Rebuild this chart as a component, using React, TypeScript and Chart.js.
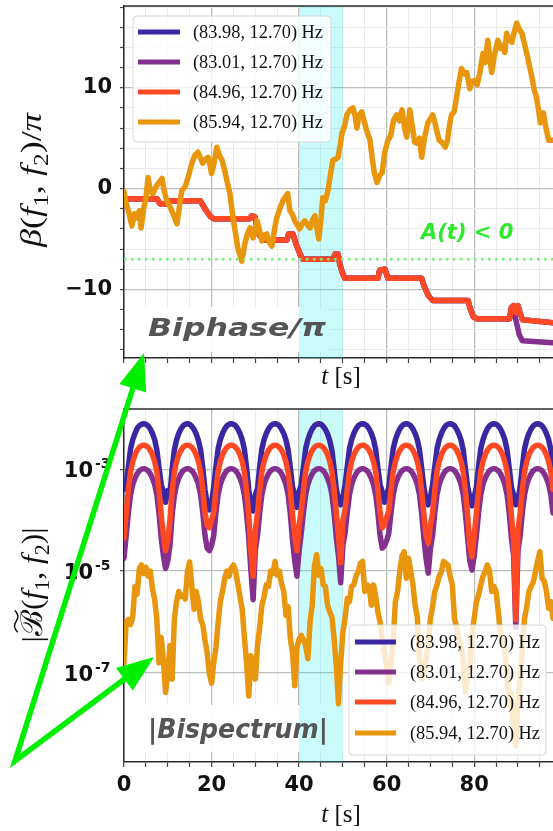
import React, { useEffect, useRef } from "react";
import { Chart, registerables } from "chart.js";

Chart.register(...registerables);

// ---------------- data ----------------
const seriesLabels = ["(83.98, 12.70) Hz", "(83.01, 12.70) Hz", "(84.96, 12.70) Hz", "(85.94, 12.70) Hz"];

const xTicks = [0, 5, 10, 15, 20, 25, 30, 35, 40, 45, 50, 55, 60, 65, 70, 75, 80, 85, 90, 95];
const biphaseTicks = [-16, -14, -12, -10, -8, -6, -4, -2, 0, 2, 4, 6, 8, 10, 12, 14, 16, 18];
const biphaseLabeled = [-10, 0, 10];
const bispecTicks = [1e-7, 1e-5, 1e-3];

const shadeStart = 40;
const shadeEnd = 50;
const thresholdLevel = -7;

// top panel: biphase / pi
const redTopT = [0, 7.5, 8.2, 9.8, 10.5, 17.4, 18.5, 19.8, 20.5, 28.7, 29.2, 29.9, 30.6, 31.7, 37.2, 37.6, 38.6, 39.3, 40.3, 40.8, 47.8, 48.2, 48.9, 49.3, 50.0, 50.5, 58.0, 58.4, 59.6, 60.3, 68.0, 68.5, 69.5, 70.5, 78.6, 79.0, 79.8, 80.5, 88.1, 88.5, 89.0, 89.5, 90.0, 90.4, 91.0, 98];
const redTopY = [-1.0, -1.0, -1.5, -1.5, -1.2, -1.2, -2.0, -2.8, -3.0, -3.0, -2.7, -2.8, -4.4, -5.1, -5.1, -4.5, -4.5, -5.5, -6.6, -7.0, -7.0, -6.5, -6.5, -7.5, -8.5, -8.9, -8.9, -8.1, -8.0, -8.9, -8.9, -9.6, -10.6, -11.1, -11.1, -11.8, -12.7, -12.9, -12.9, -11.8, -11.6, -12.3, -11.6, -12.2, -13.0, -13.3];

const purpleTopT = [0, 7.5, 8.2, 9.8, 10.5, 17.4, 18.5, 19.8, 20.5, 28.7, 29.2, 29.9, 30.6, 31.7, 37.2, 37.6, 38.6, 39.3, 40.3, 40.8, 47.8, 48.2, 48.9, 49.3, 50.0, 50.5, 58.0, 58.4, 59.6, 60.3, 68.0, 68.5, 69.5, 70.5, 78.6, 79.0, 79.8, 80.5, 88.1, 88.5, 89.0, 89.5, 90.3, 91.0, 98];
const purpleTopY = [-1.0, -1.0, -1.5, -1.5, -1.2, -1.2, -2.0, -2.8, -3.0, -3.0, -2.7, -2.8, -4.4, -5.1, -5.1, -4.5, -4.5, -5.5, -6.6, -7.0, -7.0, -6.5, -6.5, -7.5, -8.5, -8.9, -8.9, -8.1, -8.0, -8.9, -8.9, -9.6, -10.6, -11.1, -11.1, -11.8, -12.7, -12.9, -12.9, -11.8, -11.9, -13.0, -14.5, -15.1, -15.3];

const blueTopT = redTopT;
const blueTopY = redTopY;

const orangeTopT = [0, 0.5, 1, 1.8, 2.4, 3, 3.5, 3.9, 4.5, 5, 5.5, 6, 6.6, 7.3, 8, 8.7, 9.2, 9.8, 10.5, 11.3, 12.1, 12.6, 13.2, 14, 14.7, 15.5, 16.2, 16.9, 17.5, 18, 18.6, 19.2, 19.6, 20, 20.6, 21.2, 21.8, 22.4, 23, 23.5, 24.2, 24.9, 25.5, 26, 26.9, 27.6, 28.2, 28.8, 29.5, 30.4, 31, 31.5, 32.1, 32.6, 33.3, 33.8, 34.4, 34.9, 35.6, 36.3, 37.4, 37.9, 38.5, 39, 39.6, 40.1, 40.7, 41.3, 41.9, 42.5, 43, 43.6, 44.1, 44.5, 45, 45.4, 46, 46.6, 47.2, 47.7, 48.3, 48.9, 49.4, 49.8, 50.4, 50.9, 51.6, 52.3, 52.8, 53.2, 53.7, 54.3, 54.8, 55.4, 56.2, 56.7, 57.2, 57.8, 58.4, 59, 59.5, 60.3, 60.9, 61.6, 62.3, 62.9, 63.5, 64.1, 64.6, 65.3, 65.8, 66.4, 66.9, 67.5, 68, 68.6, 69.4, 70.5, 71, 71.4, 72, 72.8, 73.4, 73.9, 74.4, 74.8, 75.4, 76, 76.5, 77.1, 77.7, 78.3, 79, 79.5, 80.1, 80.7, 81.3, 82, 82.5, 83.1, 83.6, 84, 84.6, 85.4, 86, 86.5, 87, 87.4, 88, 88.6, 89.2, 89.7, 90.3, 90.9, 91.4, 92, 92.6, 93.2, 93.7, 94.2, 94.7, 95.1, 95.4, 95.8, 96.4, 97, 98];
const orangeTopY = [-0.3, -1.5, -2.2, -3.7, -2.5, -2.9, -2.2, -3.9, -2.0, -0.9, 1.1, -0.2, -0.5, 0.2, 0.6, 1.0, -0.3, -1.2, -1.8, -2.6, -3.5, -2.0, -0.2, 0.2, 1.2, 2.5, 3.3, 3.6, 3.0, 2.5, 2.9, 3.1, 2.4, 1.5, 2.6, 4.1, 3.3, 2.8, 1.8, 0.8, -0.5, -2.9, -4.5, -5.9, -7.2, -5.5, -4.5, -3.9, -4.9, -3.2, -4.2, -5.2, -4.6, -4.5, -5.4, -5.7, -4.0, -2.9, -2.0, -1.2, -0.5, -2.2, -2.6, -3.2, -3.6, -4.0, -3.5, -3.2, -3.6, -3.9, -3.2, -2.7, -4.0, -5.0, -3.0, -0.9, -1.2, -0.2, 1.5, 2.8, 2.9, 3.1, 4.3, 5.5, 6.2, 7.3, 7.8, 8.0, 7.2, 6.0, 7.3, 7.6, 6.8, 5.8, 4.8, 3.0, 1.5, 0.6, 1.3, 1.6, 3.5, 4.8, 5.2, 6.8, 7.3, 6.7, 7.8, 6.0, 5.1, 7.8, 6.3, 4.6, 4.5, 5.0, 3.1, 4.9, 6.5, 7.3, 6.6, 5.8, 4.8, 4.5, 4.1, 4.8, 6.4, 7.3, 7.6, 9.1, 10.5, 11.9, 11.4, 11.5, 9.9, 10.6, 10.7, 10.3, 11.5, 13.4, 12.5, 14.7, 12.8, 11.5, 13.2, 14.7, 13.9, 14.2, 13.5, 15.4, 14.8, 14.5, 15.6, 16.4, 15.8, 15.4, 14.5, 13.4, 12.2, 11.0, 9.8, 9.1, 7.8, 6.5, 6.9, 7.5, 6.0, 4.8, 4.8];

// bottom panel: |bispectrum|, sampled every 0.5 s from t = 0 to 98, values as log10
const bottomT = Array.from({ length: 197 }, (_, i) => i * 0.5);

const blueLog10 = [
  -3.4, -3.3, -2.95, -2.6, -2.42, -2.3, -2.2, -2.15, -2.12, -2.11, -2.12, -2.15, -2.21, -2.3, -2.42, -2.62, -2.97, -3.3, -3.45, -3.65,
  -3.42, -3.5, -3.0, -2.62, -2.43, -2.3, -2.21, -2.15, -2.12, -2.11, -2.12, -2.16, -2.22, -2.31, -2.44, -2.62, -2.98, -3.4, -3.7, -3.8,
  -3.65, -3.35, -2.96, -2.6, -2.42, -2.3, -2.21, -2.15, -2.12, -2.11, -2.12, -2.15, -2.21, -2.3, -2.42, -2.61, -2.97, -3.4, -3.75, -3.82,
  -3.5, -3.38, -2.95, -2.6, -2.42, -2.3, -2.21, -2.15, -2.12, -2.11, -2.12, -2.15, -2.22, -2.3, -2.43, -2.62, -2.98, -3.35, -3.5, -3.75,
  -3.45, -3.3, -2.95, -2.6, -2.42, -2.3, -2.21, -2.15, -2.12, -2.11, -2.12, -2.16, -2.22, -2.31, -2.44, -2.63, -3.0, -3.4, -3.6, -3.7,
  -3.55, -3.3, -2.95, -2.6, -2.42, -2.3, -2.21, -2.15, -2.12, -2.11, -2.12, -2.15, -2.21, -2.3, -2.42, -2.62, -2.98, -3.3, -3.45, -3.65,
  -3.5, -3.35, -2.95, -2.6, -2.42, -2.3, -2.21, -2.15, -2.12, -2.11, -2.12, -2.15, -2.21, -2.3, -2.42, -2.62, -2.98, -3.35, -3.6, -3.7,
  -3.55, -3.3, -2.95, -2.6, -2.42, -2.3, -2.21, -2.15, -2.12, -2.11, -2.12, -2.15, -2.22, -2.31, -2.43, -2.63, -3.0, -3.35, -3.55, -3.72,
  -3.55, -3.35, -2.95, -2.6, -2.42, -2.3, -2.21, -2.15, -2.12, -2.11, -2.12, -2.15, -2.21, -2.3, -2.42, -2.62, -2.98, -3.35, -3.5, -3.7,
  -3.6, -3.35, -2.95, -2.6, -2.42, -2.3, -2.21, -2.15, -2.12, -2.11, -2.12, -2.15, -2.21, -2.3, -2.42, -2.62, -2.98,
];

const redLog10 = [
  -4.35, -3.85, -3.4, -3.05, -2.85, -2.72, -2.63, -2.57, -2.54, -2.53, -2.54, -2.57, -2.63, -2.72, -2.85, -3.05, -3.42, -3.9, -4.3, -4.6,
  -4.4, -4.0, -3.42, -3.06, -2.86, -2.72, -2.63, -2.57, -2.54, -2.53, -2.54, -2.57, -2.63, -2.72, -2.85, -3.05, -3.4, -3.85, -4.1, -4.15,
  -4.0, -3.85, -3.4, -3.05, -2.85, -2.72, -2.63, -2.57, -2.54, -2.53, -2.54, -2.57, -2.63, -2.72, -2.85, -3.05, -3.42, -3.9, -4.6, -5.1,
  -4.2, -3.85, -3.4, -3.05, -2.85, -2.72, -2.63, -2.57, -2.54, -2.53, -2.54, -2.57, -2.63, -2.72, -2.86, -3.06, -3.42, -3.9, -4.3, -4.6,
  -4.1, -3.8, -3.4, -3.05, -2.85, -2.72, -2.63, -2.57, -2.54, -2.53, -2.54, -2.57, -2.63, -2.72, -2.85, -3.05, -3.4, -3.85, -4.3, -4.84,
  -4.0, -3.8, -3.4, -3.05, -2.85, -2.72, -2.63, -2.57, -2.54, -2.53, -2.54, -2.57, -2.63, -2.72, -2.85, -3.05, -3.4, -3.85, -4.15, -4.1,
  -3.95, -3.8, -3.4, -3.05, -2.85, -2.72, -2.63, -2.57, -2.54, -2.53, -2.54, -2.57, -2.63, -2.72, -2.85, -3.05, -3.42, -3.88, -4.3, -4.45,
  -4.1, -3.85, -3.4, -3.05, -2.85, -2.72, -2.63, -2.57, -2.54, -2.53, -2.54, -2.57, -2.63, -2.72, -2.85, -3.05, -3.42, -3.9, -4.5, -4.72,
  -4.3, -3.85, -3.4, -3.05, -2.85, -2.72, -2.63, -2.57, -2.54, -2.53, -2.54, -2.57, -2.63, -2.72, -2.85, -3.05, -3.4, -3.9, -4.4, -5.95,
  -4.2, -3.85, -3.4, -3.05, -2.85, -2.72, -2.63, -2.57, -2.54, -2.53, -2.54, -2.57, -2.63, -2.72, -2.85, -3.05, -3.4,
];

const purpleLog10 = [
  -4.75, -4.3, -3.85, -3.5, -3.3, -3.18, -3.09, -3.03, -3.0, -2.99, -3.0, -3.03, -3.09, -3.18, -3.3, -3.5, -3.87, -4.35, -4.7, -4.95,
  -4.8, -4.5, -3.9, -3.52, -3.31, -3.18, -3.09, -3.03, -3.0, -2.99, -3.0, -3.03, -3.09, -3.18, -3.3, -3.5, -3.86, -4.3, -4.55, -4.6,
  -4.5, -4.3, -3.85, -3.5, -3.3, -3.18, -3.09, -3.03, -3.0, -2.99, -3.0, -3.03, -3.09, -3.18, -3.3, -3.5, -3.87, -4.35, -5.0, -5.56,
  -4.6, -4.3, -3.85, -3.5, -3.3, -3.18, -3.09, -3.03, -3.0, -2.99, -3.0, -3.03, -3.09, -3.18, -3.31, -3.51, -3.88, -4.4, -4.8, -5.1,
  -4.6, -4.25, -3.85, -3.5, -3.3, -3.18, -3.09, -3.03, -3.0, -2.99, -3.0, -3.03, -3.09, -3.18, -3.3, -3.5, -3.86, -4.35, -4.7, -5.23,
  -4.5, -4.25, -3.85, -3.5, -3.3, -3.18, -3.09, -3.03, -3.0, -2.99, -3.0, -3.03, -3.09, -3.18, -3.3, -3.5, -3.86, -4.3, -4.55, -4.5,
  -4.4, -4.25, -3.85, -3.5, -3.3, -3.18, -3.09, -3.03, -3.0, -2.99, -3.0, -3.03, -3.09, -3.18, -3.3, -3.5, -3.87, -4.35, -4.75, -5.04,
  -4.55, -4.3, -3.85, -3.5, -3.3, -3.18, -3.09, -3.03, -3.0, -2.99, -3.0, -3.03, -3.09, -3.18, -3.3, -3.5, -3.87, -4.35, -4.8, -4.98,
  -4.7, -4.3, -3.85, -3.5, -3.3, -3.18, -3.09, -3.03, -3.0, -2.99, -3.0, -3.03, -3.09, -3.18, -3.3, -3.5, -3.86, -4.35, -4.7, -6.1,
  -4.6, -4.3, -3.85, -3.5, -3.3, -3.18, -3.09, -3.03, -3.0, -2.99, -3.0, -3.03, -3.09, -3.18, -3.3, -3.5, -3.86,
];

const orangeLog10 = [
  -6.8, -6.0, -5.95, -6.05, -5.9, -5.3, -5.45, -4.95, -4.88, -5.05, -4.92, -5.1, -5.0, -5.35, -5.55, -5.95, -6.8, -6.3, -6.75, -7.38,
  -7.0, -6.46, -7.12, -5.95, -5.6, -5.4, -5.5, -5.47, -5.55, -5.0, -4.82, -5.3, -5.75, -5.4, -5.6, -5.95, -6.05, -6.35, -6.6, -7.0,
  -7.2, -6.8, -6.5, -6.0, -5.6, -5.4, -5.15, -5.0, -5.1, -4.94, -4.88, -5.0, -5.25, -5.5, -5.75, -6.3, -6.8, -7.45, -6.66, -6.9,
  -7.12, -6.46, -6.1, -5.67, -5.5, -5.27, -5.3, -5.0, -5.05, -4.81, -5.08, -5.0, -5.25, -5.4, -5.87, -5.7, -6.33, -6.6, -7.25, -6.5,
  -6.33, -6.26, -6.35, -6.46, -6.72, -6.0, -5.67, -4.9, -4.68, -5.08, -4.95, -5.27, -5.3, -5.67, -5.8, -5.9, -6.33, -6.85, -7.6, -6.8,
  -6.2, -5.93, -5.54, -5.6, -5.3, -5.27, -5.1, -5.01, -4.85, -4.81, -5.4, -5.27, -5.3, -5.67, -5.27, -5.5, -5.8, -6.0, -6.33, -6.6,
  -6.85, -7.19, -6.8, -6.33, -5.6, -5.4, -5.01, -4.7, -4.62, -5.14, -4.75, -5.0, -5.27, -5.67, -5.9, -6.72, -7.12, -7.0, -6.72, -6.4,
  -5.93, -5.7, -5.4, -5.27, -5.1, -5.01, -4.81, -4.85, -4.88, -5.1, -5.27, -5.93, -6.1, -6.33, -6.5, -6.72, -7.38, -7.1, -6.85, -6.2,
  -5.93, -5.6, -5.47, -5.27, -5.1, -5.01, -4.88, -5.0, -5.4, -5.3, -5.4, -5.8, -6.2, -6.33, -6.59, -7.0, -7.64, -7.4, -8.1, -8.43,
  -7.6, -7.12, -6.5, -5.93, -5.7, -5.4, -5.3, -5.21, -5.01, -4.8, -4.62, -5.14, -5.2, -5.4, -5.73, -5.6, -5.93,
];

// ---------------- styling ----------------
const W = 553;
const H = 831;
const TOP_H = 400;
const BOT_H = 431;

const BLUE = "#3b27a1";
const PURPLE = "#83308e";
const RED = "#ff4824";
const ORANGE = "#e8960d";
const seriesColors = [BLUE, PURPLE, RED, ORANGE];

const MAJOR_GRID = "#bdbdbd";
const MINOR_GRID = "#ebebeb";
const SERIF = '"Liberation Serif", "DejaVu Serif", serif';
const SANS = '"DejaVu Sans", sans-serif';
const tickFont = { family: SANS, weight: "bold", size: 21 };

type Run = { t: string; s: "i" | "n" | "sub"; tilde?: boolean };

function drawRuns(ctx: CanvasRenderingContext2D, runs: Run[], cx: number, cy: number, size: number, rotate: boolean, target?: number) {
  const fontFor = (s: string) =>
    s === "i" ? `italic ${size}px ${SERIF}` : s === "sub" ? `${Math.round(size * 0.7)}px ${SERIF}` : `${size}px ${SERIF}`;
  let total = 0;
  const widths = runs.map((r) => {
    ctx.font = fontFor(r.s);
    const w = ctx.measureText(r.t).width;
    total += w;
    return w;
  });
  const sx = target ? target / total : 1;
  ctx.save();
  ctx.translate(cx, cy);
  if (rotate) ctx.rotate(-Math.PI / 2);
  ctx.scale(sx, 1);
  ctx.fillStyle = "#111";
  ctx.textBaseline = "alphabetic";
  ctx.textAlign = "left";
  let x = -total / 2;
  runs.forEach((r, i) => {
    ctx.font = fontFor(r.s);
    ctx.fillText(r.t, x, r.s === "sub" ? size * 0.22 : 0);
    if (r.tilde) {
      const w = widths[i];
      const c = x + w / 2 + size * 0.06;
      const hw = w * 0.42;
      const ty = -size * 0.86;
      ctx.beginPath();
      ctx.moveTo(c - hw, ty + 1.5);
      ctx.quadraticCurveTo(c - hw / 2, ty - 4, c, ty);
      ctx.quadraticCurveTo(c + hw / 2, ty + 4, c + hw, ty - 1.5);
      ctx.lineWidth = 1.4;
      ctx.strokeStyle = "#111";
      ctx.stroke();
    }
    x += widths[i];
  });
  ctx.restore();
}

function drawScaledText(ctx: CanvasRenderingContext2D, text: string, font: string, color: string, left: number, baseline: number, target: number) {
  ctx.save();
  ctx.font = font;
  const w = ctx.measureText(text).width;
  ctx.translate(left, baseline);
  ctx.scale(target / w, 1);
  ctx.fillStyle = color;
  ctx.textBaseline = "alphabetic";
  ctx.textAlign = "left";
  ctx.fillText(text, 0, 0);
  ctx.restore();
}

function drawLegend(ctx: CanvasRenderingContext2D, x0: number, y0: number, w: number, h: number, rows: number[], lx0: number, lx1: number, tx: number) {
  ctx.save();
  ctx.beginPath();
  const r = 4;
  ctx.moveTo(x0 + r, y0);
  ctx.arcTo(x0 + w, y0, x0 + w, y0 + h, r);
  ctx.arcTo(x0 + w, y0 + h, x0, y0 + h, r);
  ctx.arcTo(x0, y0 + h, x0, y0, r);
  ctx.arcTo(x0, y0, x0 + w, y0, r);
  ctx.closePath();
  ctx.fillStyle = "rgba(255,255,255,0.8)";
  ctx.fill();
  ctx.strokeStyle = "#d6d6d6";
  ctx.lineWidth = 1;
  ctx.stroke();
  seriesLabels.forEach((lab, i) => {
    ctx.beginPath();
    ctx.moveTo(lx0, rows[i]);
    ctx.lineTo(lx1, rows[i]);
    ctx.strokeStyle = seriesColors[i];
    ctx.lineWidth = 5;
    ctx.stroke();
    drawScaledText(ctx, lab, `18px ${SERIF}`, "#111", tx, rows[i] + 6, 130);
  });
  ctx.restore();
}

function drawShade(ctx: CanvasRenderingContext2D, chart: any) {
  const a = chart.chartArea;
  const x = chart.scales.x;
  const x0 = x.getPixelForValue(shadeStart);
  const x1 = x.getPixelForValue(shadeEnd);
  ctx.fillStyle = "rgba(0, 235, 235, 0.21)";
  ctx.fillRect(x0, a.top, x1 - x0, a.bottom - a.top);
}

function drawTopBorder(ctx: CanvasRenderingContext2D, a: any) {
  ctx.save();
  ctx.beginPath();
  ctx.moveTo(a.left, a.top);
  ctx.lineTo(a.right, a.top);
  ctx.strokeStyle = "#2a2a2a";
  ctx.lineWidth = 1.5;
  ctx.stroke();
  ctx.restore();
}

const topDecor = {
  id: "topDecor",
  beforeDatasetsDraw(chart: any) {
    const { ctx, chartArea: a } = chart;
    ctx.save();
    ctx.fillStyle = "rgba(255,255,255,0.92)";
    ctx.fillRect(a.left + 1, 307, 205, 45);
    drawShade(ctx, chart);
    drawScaledText(ctx, "Biphase/π", `italic bold 25px ${SANS}`, "#555", a.left + 24, 336, 178);
    ctx.restore();
  },
  afterDatasetsDraw(chart: any) {
    const { ctx, chartArea: a, scales } = chart;
    ctx.save();
    const yy = scales.y.getPixelForValue(thresholdLevel);
    ctx.beginPath();
    ctx.setLineDash([2.5, 4.5]);
    ctx.moveTo(a.left, yy);
    ctx.lineTo(a.right, yy);
    ctx.strokeStyle = "#74ee74";
    ctx.lineWidth = 2.5;
    ctx.stroke();
    ctx.setLineDash([]);
    ctx.font = `italic bold 21px ${SANS}`;
    ctx.fillStyle = "#2ee82e";
    ctx.textBaseline = "alphabetic";
    ctx.fillText("A(t) < 0", 421, 239);
    ctx.restore();
    drawLegend(ctx, 133, 16, 198, 126, [32, 62, 92, 122], 138, 180, 193);
  },
  afterDraw(chart: any) {
    const { ctx, chartArea: a } = chart;
    drawTopBorder(ctx, a);
    drawRuns(ctx, [{ t: "β", s: "i" }, { t: "(", s: "n" }, { t: "f", s: "i" }, { t: "1", s: "sub" }, { t: ", ", s: "n" }, { t: "f", s: "i" }, { t: "2", s: "sub" }, { t: ")/", s: "n" }, { t: "π", s: "i" }], 41, 180, 30, true, 134);
    drawRuns(ctx, [{ t: "t", s: "i" }, { t: " [s]", s: "n" }], 341, 384, 25, false);
  },
};

const bottomDecor = {
  id: "bottomDecor",
  beforeDatasetsDraw(chart: any) {
    const { ctx, chartArea: a } = chart;
    ctx.save();
    ctx.fillStyle = "rgba(255,255,255,0.92)";
    ctx.fillRect(a.left + 1, 305, 223, 47);
    drawShade(ctx, chart);
    drawScaledText(ctx, "|Bispectrum|", `italic bold 26px ${SANS}`, "#555", a.left + 24, 338, 180);
    ctx.restore();
  },
  afterDatasetsDraw(chart: any) {
    drawLegend(chart.ctx, 349, 225, 197, 130, [242, 272, 302, 333], 355, 396, 410);
  },
  afterDraw(chart: any) {
    const { ctx, chartArea: a, scales } = chart;
    drawTopBorder(ctx, a);
    // log tick labels as 10 with a raised exponent
    ctx.save();
    ctx.fillStyle = "#111";
    bispecTicks.forEach((v) => {
      const py = scales.y.getPixelForValue(v);
      const e = Math.round(Math.log10(v));
      ctx.font = `bold 21px ${SANS}`;
      ctx.textAlign = "right";
      ctx.textBaseline = "middle";
      ctx.fillText("10", 93, py + 2);
      ctx.font = `bold 14px ${SANS}`;
      ctx.textAlign = "left";
      ctx.textBaseline = "alphabetic";
      ctx.fillText(String(e).replace("-", "-"), 95, py - 1);
    });
    ctx.restore();
    drawRuns(ctx, [{ t: "|", s: "n" }, { t: "ℬ", s: "n", tilde: true }, { t: "(", s: "n" }, { t: "f", s: "i" }, { t: "1", s: "sub" }, { t: ", ", s: "n" }, { t: "f", s: "i" }, { t: "2", s: "sub" }, { t: ")|", s: "n" }], 42, 185, 30, true, 115);
    drawRuns(ctx, [{ t: "t", s: "i" }, { t: " [s]", s: "n" }], 341, 422, 25, false);
  },
};

function lineDataset(label: string, color: string, xs: number[], ys: number[], width: number) {
  return {
    label,
    data: xs.map((x, i) => ({ x, y: ys[i] })),
    borderColor: color,
    backgroundColor: color,
    borderWidth: width,
    pointRadius: 0,
    pointHoverRadius: 0,
    fill: false,
    tension: 0,
    borderJoinStyle: "round",
    borderCapStyle: "round",
  };
}

function xScale(showLabels: boolean, height: number) {
  return {
    type: "linear",
    min: 0,
    max: 98,
    afterBuildTicks: (s: any) => {
      s.ticks = xTicks.map((v) => ({ value: v }));
    },
    afterFit: (s: any) => {
      s.height = height;
      s.paddingLeft = 0;
      s.paddingRight = 0;
    },
    ticks: {
      autoSkip: false,
      maxRotation: 0,
      minRotation: 0,
      padding: 6,
      font: tickFont,
      color: "#111",
      callback: (v: number) => (showLabels && v % 20 === 0 ? String(v) : ""),
    },
    grid: {
      color: (c: any) => (c.tick && c.tick.value % 20 === 0 ? MAJOR_GRID : MINOR_GRID),
      lineWidth: (c: any) => (c.tick && c.tick.value % 20 === 0 ? 1.3 : 1),
      tickLength: 5,
      tickColor: "#444",
      tickWidth: 1.2,
    },
    border: { color: "#2a2a2a", width: 1.5 },
  };
}

const yAfterFit = (s: any) => {
  s.width = 124;
  s.paddingTop = 0;
  s.paddingBottom = 0;
};

function topConfig(): any {
  return {
    type: "line",
    data: {
      datasets: [
        lineDataset(seriesLabels[3], ORANGE, orangeTopT, orangeTopY, 5.5),
        lineDataset(seriesLabels[2], RED, redTopT, redTopY, 5.5),
        lineDataset(seriesLabels[1], PURPLE, purpleTopT, purpleTopY, 5.5),
        lineDataset(seriesLabels[0], BLUE, blueTopT, blueTopY, 5.5),
      ],
    },
    options: {
      responsive: false,
      animation: false,
      events: [],
      layout: { padding: { top: 6, left: 0, right: 0, bottom: 0 } },
      plugins: { legend: { display: false }, tooltip: { enabled: false } },
      scales: {
        x: xScale(false, 42),
        y: {
          type: "linear",
          min: -16.8,
          max: 18.1,
          afterBuildTicks: (s: any) => {
            s.ticks = biphaseTicks.map((v) => ({ value: v }));
          },
          afterFit: yAfterFit,
          ticks: {
            autoSkip: false,
            padding: 8,
            font: tickFont,
            color: "#111",
            callback: (v: number) => (biphaseLabeled.includes(v) ? (v < 0 ? "−" + Math.abs(v) : String(v)) : ""),
          },
          grid: {
            color: (c: any) => (c.tick && c.tick.value % 10 === 0 ? MAJOR_GRID : MINOR_GRID),
            lineWidth: (c: any) => (c.tick && c.tick.value % 10 === 0 ? 1.3 : 1),
            tickLength: 4,
            tickColor: "#444",
            tickWidth: 1.2,
          },
          border: { color: "#2a2a2a", width: 1.5 },
        },
      },
    },
    plugins: [topDecor],
  };
}

function bottomConfig(): any {
  const toVal = (arr: number[]) => arr.map((e) => Math.pow(10, e));
  return {
    type: "line",
    data: {
      datasets: [
        lineDataset(seriesLabels[3], ORANGE, bottomT, toVal(orangeLog10), 5.5),
        lineDataset(seriesLabels[2], RED, bottomT, toVal(redLog10), 5.5),
        lineDataset(seriesLabels[1], PURPLE, bottomT, toVal(purpleLog10), 5.5),
        lineDataset(seriesLabels[0], BLUE, bottomT, toVal(blueLog10), 5.5),
      ],
    },
    options: {
      responsive: false,
      animation: false,
      events: [],
      layout: { padding: { top: 9, left: 0, right: 0, bottom: 0 } },
      plugins: { legend: { display: false }, tooltip: { enabled: false } },
      scales: {
        x: xScale(true, 69),
        y: {
          type: "logarithmic",
          min: Math.pow(10, -8.745),
          max: Math.pow(10, -1.82),
          afterBuildTicks: (s: any) => {
            s.ticks = bispecTicks.map((v) => ({ value: v }));
          },
          afterFit: yAfterFit,
          ticks: {
            autoSkip: false,
            padding: 8,
            font: tickFont,
            color: "#111",
            callback: () => "",
          },
          grid: {
            color: MAJOR_GRID,
            lineWidth: 1.3,
            tickLength: 4,
            tickColor: "#444",
            tickWidth: 1.2,
          },
          border: { color: "#2a2a2a", width: 1.5 },
        },
      },
    },
    plugins: [bottomDecor],
  };
}

function drawArrows(canvas: HTMLCanvasElement) {
  const ctx = canvas.getContext("2d");
  if (!ctx) return;
  ctx.clearRect(0, 0, W, H);
  const start = { x: 15, y: 761 };
  const tips = [
    { x: 144, y: 353 },
    { x: 154, y: 657 },
  ];
  const headLen = 37;
  const headHalf = 14;
  const bases = tips.map((t) => {
    const dx = t.x - start.x;
    const dy = t.y - start.y;
    const L = Math.hypot(dx, dy);
    const ux = dx / L;
    const uy = dy / L;
    return { bx: t.x - ux * headLen, by: t.y - uy * headLen, px: -uy, py: ux, ux, uy };
  });
  ctx.strokeStyle = "#00ee00";
  ctx.fillStyle = "#00ee00";
  ctx.lineWidth = 5.5;
  ctx.lineJoin = "miter";
  ctx.miterLimit = 20;
  ctx.beginPath();
  ctx.moveTo(bases[0].bx + bases[0].ux * 4, bases[0].by + bases[0].uy * 4);
  ctx.lineTo(start.x, start.y);
  ctx.lineTo(bases[1].bx + bases[1].ux * 4, bases[1].by + bases[1].uy * 4);
  ctx.stroke();
  tips.forEach((t, i) => {
    const b = bases[i];
    ctx.beginPath();
    ctx.moveTo(t.x, t.y);
    ctx.lineTo(b.bx + b.px * headHalf, b.by + b.py * headHalf);
    ctx.lineTo(b.bx - b.px * headHalf, b.by - b.py * headHalf);
    ctx.closePath();
    ctx.fill();
  });
}

export default function App() {
  const topRef = useRef<HTMLCanvasElement>(null);
  const botRef = useRef<HTMLCanvasElement>(null);
  const ovRef = useRef<HTMLCanvasElement>(null);

  useEffect(() => {
    if (!topRef.current || !botRef.current || !ovRef.current) return;
    const top = new Chart(topRef.current, topConfig());
    const bot = new Chart(botRef.current, bottomConfig());
    drawArrows(ovRef.current);
    return () => {
      top.destroy();
      bot.destroy();
    };
  }, []);

  return (
    <div style={{ position: "absolute", left: 0, top: 0, width: W, height: H, background: "#fff", overflow: "hidden" }}>
      <canvas ref={topRef} width={W} height={TOP_H} style={{ position: "absolute", left: 0, top: 0, width: W, height: TOP_H }} />
      <canvas ref={botRef} width={W} height={BOT_H} style={{ position: "absolute", left: 0, top: TOP_H, width: W, height: BOT_H }} />
      <canvas ref={ovRef} width={W} height={H} style={{ position: "absolute", left: 0, top: 0, width: W, height: H, pointerEvents: "none" }} />
    </div>
  );
}
